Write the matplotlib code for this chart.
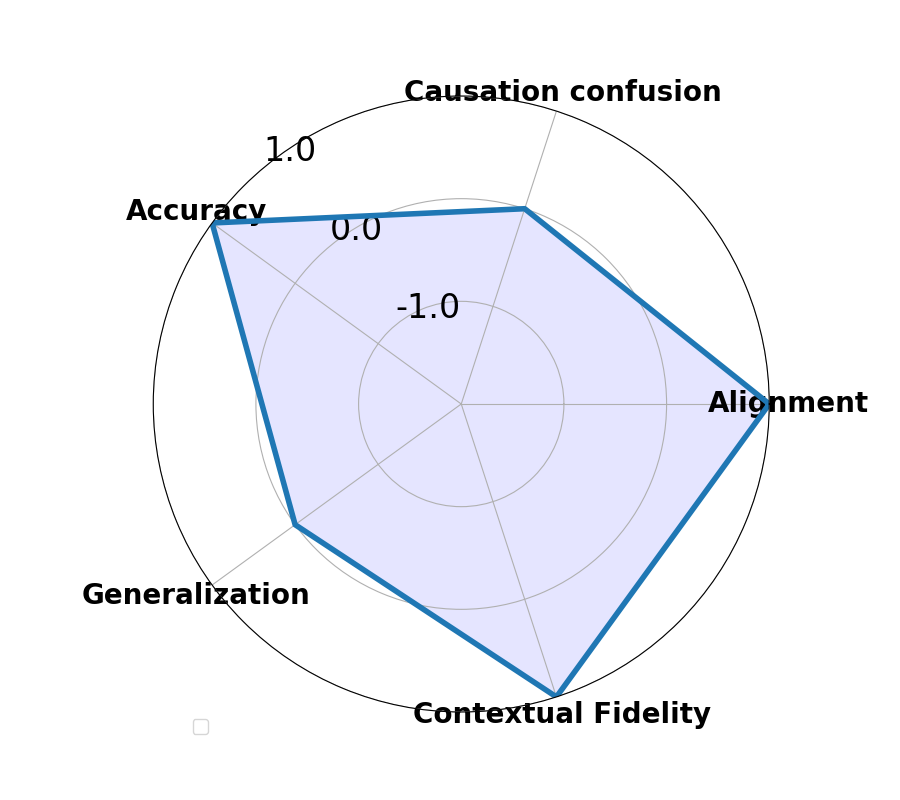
import numpy as np
import matplotlib.pyplot as plt

# radar data
categories = ['Alignment', 'Causation confusion', 'Accuracy', 'Generalization', 'Contextual Fidelity']
values = [1.0, 0.0, 1.0, 0.0, 1.0]
r_ticks = [-1.0, 0.0, 1.0]
r_tick_labels = ['-1.0', '0.0', '1.0']

n = len(categories)
angles = np.linspace(0, 2 * np.pi, n, endpoint=False).tolist()
vals = values + values[:1]
angs = angles + angles[:1]

fig = plt.figure(figsize=(9, 8), dpi=100)
ax = fig.add_subplot(111, polar=True)

ax.fill(angs, vals, color='blue', alpha=0.1)
ax.plot(angs, vals, color='#1f77b4', linewidth=4)

ax.set_ylim(-2, 1)
ax.set_yticks(r_ticks)
ax.set_yticklabels(r_tick_labels, fontsize=24)
ax.set_rlabel_position(130)

ax.set_xticks(angles)
ax.set_xticklabels(categories, fontsize=20, fontweight='bold')

# empty legend box, like the original
ax.legend(loc='upper right', bbox_to_anchor=(0.1, 0.0), borderpad=0.55)

plt.savefig('out.png', dpi=100)
